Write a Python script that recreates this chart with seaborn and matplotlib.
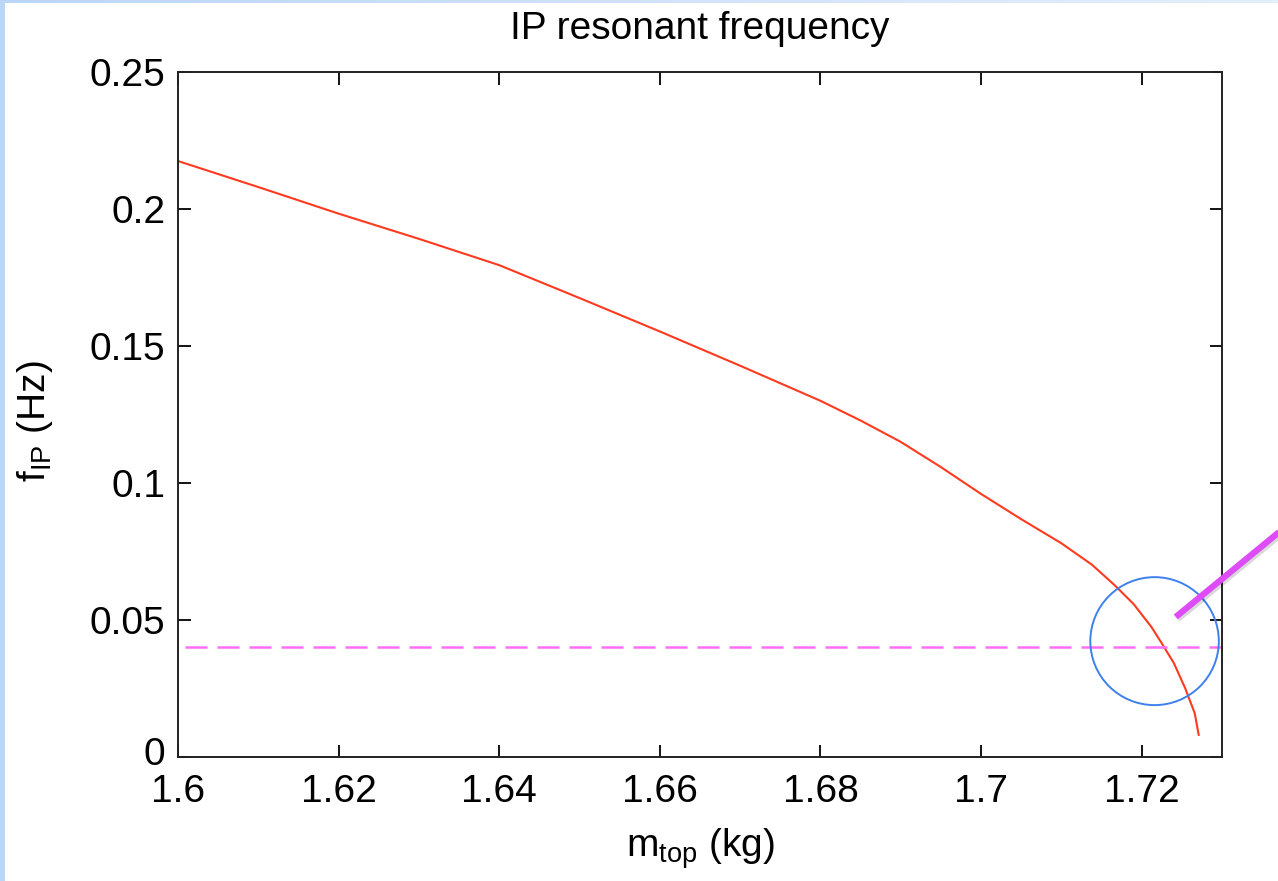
import numpy as np
import pandas as pd
import matplotlib
matplotlib.use("Agg")
import matplotlib.pyplot as plt
import matplotlib.patheffects as pe
import matplotlib.transforms as mtrans
from matplotlib.patches import Ellipse, Rectangle
from matplotlib.lines import Line2D
import seaborn as sns

# Data
m_top = [1.600, 1.610, 1.620, 1.630, 1.640, 1.650, 1.660, 1.670, 1.680,
         1.685, 1.690, 1.695, 1.700, 1.705, 1.710, 1.7138, 1.7166, 1.719,
         1.7212, 1.7225, 1.724, 1.7254, 1.7266, 1.7271]
f_ip = [0.2175, 0.2080, 0.1983, 0.1891, 0.1795, 0.1675, 0.1553, 0.1428, 0.1300,
        0.1228, 0.1150, 0.1058, 0.0960, 0.0868, 0.0780, 0.0702, 0.0628, 0.0558,
        0.0475, 0.0415, 0.0343, 0.0252, 0.0160, 0.0080]
f_target = 0.04
x_ticks = [1.6, 1.62, 1.64, 1.66, 1.68, 1.7, 1.72]
y_ticks = [0, 0.05, 0.1, 0.15, 0.2, 0.25]
circle_center = (1.7216, 0.0423)

sns.set_style("ticks")
plt.rcParams['font.family'] = ['Liberation Sans', 'DejaVu Sans']
plt.rcParams['mathtext.fontset'] = 'custom'
plt.rcParams['mathtext.rm'] = 'Liberation Sans'
plt.rcParams['text.color'] = 'black'
plt.rcParams['axes.labelcolor'] = 'black'
plt.rcParams['xtick.color'] = 'black'
plt.rcParams['ytick.color'] = 'black'

fig = plt.figure(figsize=(12.78, 8.81), dpi=100)
fig.patch.set_facecolor('white')
ax = fig.add_axes([0.1393, 0.1407, 0.8169, 0.7776])

df = pd.DataFrame({'m_top': m_top, 'f_ip': f_ip})
sns.lineplot(data=df, x='m_top', y='f_ip', ax=ax, color='#FF3A1E', linewidth=1.5)

ax.axhline(f_target, color='#FF6EF5', linewidth=1.8, linestyle=(10, (8.8, 4)))

ax.set_xlim(1.6, 1.73)
ax.set_ylim(0, 0.25)
ax.set_xticks(x_ticks)
ax.set_yticks(y_ticks)
ax.set_xticklabels(['%g' % t for t in x_ticks])
ax.set_yticklabels(['%g' % t for t in y_ticks])
ax.tick_params(direction='in', length=9, width=1.3, labelsize=28, top=True, right=True,
               colors='black')
ax.tick_params(axis='x', pad=12)
ax.tick_params(axis='y', pad=9)
for s in ax.spines.values():
    s.set_visible(True)
    s.set_linewidth(1.4)
    s.set_color('#222222')

# nudge the "0" label up a little, as in the original
zero_lbl = ax.get_yticklabels()[0]
zero_lbl.set_transform(zero_lbl.get_transform() +
                       mtrans.ScaledTranslation(0, 4 / 72, fig.dpi_scale_trans))

ax.set_title('IP resonant frequency', fontsize=28, pad=24)
ax.set_xlabel(r'm$_{\mathregular{top}}$ (kg)', fontsize=28, labelpad=12)
ax.set_ylabel(r'f$_{\mathregular{IP}}$ (Hz)', fontsize=28)
ax.yaxis.set_label_coords(-0.118, 0.49)

# highlight circle around crossing
circ = Ellipse(circle_center, width=0.016, height=0.0467, fill=False,
               edgecolor='#3D80EE', linewidth=1.4, clip_on=False, zorder=5)
ax.add_patch(circ)

# pointer line coming from the right edge of the slide
pointer = Line2D([0.920, 1.005], [0.2997, 0.4010], transform=fig.transFigure,
                 color='#DD4CF7', linewidth=4.5, solid_capstyle='butt',
                 path_effects=[pe.SimpleLineShadow(offset=(1.5, -1.5), alpha=0.15), pe.Normal()])
fig.add_artist(pointer)

# slide frame strips
fig.add_artist(Rectangle((0, 0), 5 / 1278, 1, transform=fig.transFigure,
                         facecolor='#BCD6F8', edgecolor='none'))
grad_ax = fig.add_axes([0, 1 - 3 / 881, 1, 3 / 881])
grad_ax.imshow(np.linspace(0, 1, 256)[None, :], aspect='auto',
               cmap=matplotlib.colors.LinearSegmentedColormap.from_list('g', ['#BCD6F8', '#E4EEFB']))
grad_ax.axis('off')

fig.savefig('out.png', dpi=100)
